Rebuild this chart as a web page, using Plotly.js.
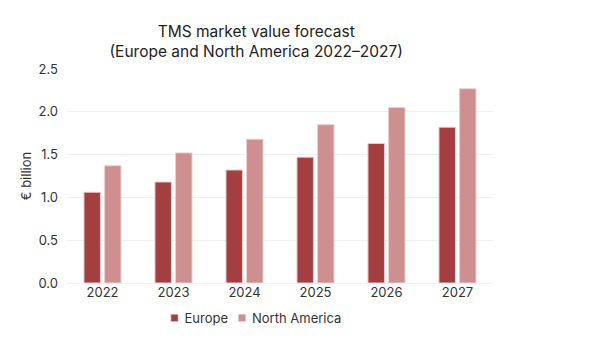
<!DOCTYPE html>
<html>
<head>
<meta charset="utf-8">
<script src="https://cdn.plot.ly/plotly-3.0.1.min.js"></script>
<style>html,body{margin:0;padding:0;background:#fff;}#chart{width:600px;height:359px;}</style>
</head>
<body>
<div id="chart"></div>
<script>
const years = ['2022', '2023', '2024', '2025', '2026', '2027'];
const europe = [1.06, 1.18, 1.32, 1.47, 1.63, 1.82];
const northAmerica = [1.37, 1.52, 1.68, 1.85, 2.05, 2.27];
const yTicks = [0, 0.5, 1.0, 1.5, 2.0, 2.5];
const yTickText = ['0.0', '0.5', '1.0', '1.5', '2.0', '2.5'];

const font = 'Inter, "Noto Sans", sans-serif';

const data = [
  {type: 'bar', name: 'Europe', x: years, y: europe,
   marker: {color: '#a33f41', line: {color: '#e9caca', width: 1}}},
  {type: 'bar', name: 'North America', x: years, y: northAmerica,
   marker: {color: '#cd8f8f', line: {color: '#ecd0d0', width: 1}}}
];

const layout = {
  width: 600, height: 359,
  paper_bgcolor: '#fff', plot_bgcolor: '#fff',
  margin: {l: 67, r: 107, t: 69, b: 76},
  font: {family: font, color: '#333', size: 13},
  title: {text: 'TMS market value forecast<br>(Europe and North America 2022–2027)',
          font: {family: font, size: 15.5, color: '#222'},
          xref: 'container', x: 0.427, xanchor: 'center',
          yref: 'container', y: 1 - 37/359, yanchor: 'middle'},
  barmode: 'group', bargap: 0.42, bargroupgap: 0.2,
  xaxis: {type: 'category', showgrid: false, zeroline: false, showline: false,
          ticks: '', tickfont: {size: 13, color: '#333'}},
  yaxis: {range: [0, 2.5], tickvals: yTicks, ticktext: yTickText,
          showgrid: true, gridcolor: '#efefef', gridwidth: 1,
          zeroline: true, zerolinecolor: '#efefef', zerolinewidth: 1,
          showline: false, ticks: '', ticklabelstandoff: 8,
          tickfont: {size: 13, color: '#333'},
          title: {text: '€ billion', font: {size: 13, color: '#333'}, standoff: 3}},
  showlegend: true,
  legend: {orientation: 'h', xref: 'paper', x: (256-67)/426, xanchor: 'center',
           yref: 'paper', y: -(318-283)/214, yanchor: 'middle',
           font: {size: 13, color: '#333'}, traceorder: 'normal',
           itemwidth: 30, bgcolor: 'rgba(0,0,0,0)'}
};

Plotly.newPlot('chart', data, layout, {displayModeBar: false, staticPlot: true}).then(function(gd) {
  // compact legend like the reference: small swatch close to its label
  document.querySelectorAll('#chart .legend .legendpoints path').forEach(function(p) {
    p.setAttribute('transform', 'translate(30,0) scale(0.6)');
  });
  const items = document.querySelectorAll('#chart .legend .traces');
  items.forEach(function(g, i) {
    if (i === 0) return;
    const t = g.getAttribute('transform') || '';
    const m = t.match(/translate\(\s*([-\d.]+)[ ,]+([-\d.]+)\s*\)/);
    if (m) g.setAttribute('transform', 'translate(' + (parseFloat(m[1]) - 21 * i) + ',' + m[2] + ')');
  });
});
</script>
</body>
</html>
